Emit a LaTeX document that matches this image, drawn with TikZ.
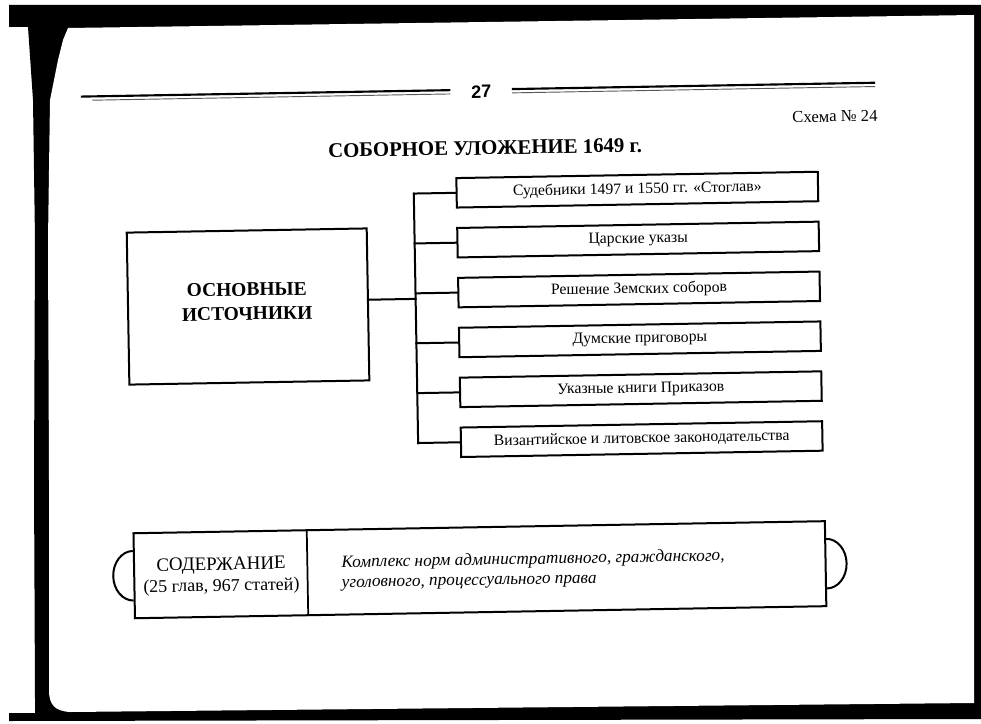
\documentclass[tikz,border=0pt]{standalone}
\usepackage{fontspec}
\setmainfont{Liberation Serif}
\newfontfamily\hdrfont{Liberation Sans}
\begin{document}
\begin{tikzpicture}[x=0.75pt,y=-0.75pt,
  srcbox/.style={draw, line width=1.5pt, minimum width=271.1pt, minimum height=22.1pt,
    inner sep=0pt, font=\fontsize{11.8}{14}\selectfont},
  bigbox/.style={draw, line width=1.5pt, inner sep=0pt},
  link/.style={line width=1.5pt, line cap=rect},
  rulethick/.style={line width=1.6pt},
  rulethin/.style={line width=0.7pt, black!65},
  txt/.style={inner sep=0pt}]
\useasboundingbox (0,0) rectangle (981,724);
\fill[white] (0,0) rectangle (981,724);
% scanned page edges
\fill[black] (9,5) -- (981,5) -- (981,719) -- (9,721) -- (9,713) -- (35,713) -- (35,698)
  -- (34,480) -- (35,240) -- (33,100) -- (28,27) -- (9,27) -- cycle;
\fill[white] (68,28) -- (974,15) -- (974,703) -- (70,712)
  .. controls (55,711) and (49,705) .. (49,690) -- (49,480) -- (48,240) -- (50,100)
  -- (58,60) -- (63,40) -- cycle;

\begin{scope}[rotate around={1:(490,360)}, transform shape]
  % header
  \draw[rulethick] (85.6,89.5) -- (455,89.5);
  \draw[rulethin] (97,93.3) -- (455,93.3);
  \draw[rulethick] (516.7,89.5) -- (879.8,89.5);
  \draw[rulethin] (516.7,93.3) -- (879.8,93.3);
  \node[txt, font=\fontsize{13.5}{16}\selectfont\hdrfont\bfseries] (pg) at (486,91.5) {27};
  \node[txt, anchor=east, font=\fontsize{12.5}{14}\selectfont] (schema) at (882,122.5) {Схема № 24};
  \node[txt, font=\fontsize{15.6}{18}\selectfont\bfseries] (title) at (488.7,148) {СОБОРНОЕ УЛОЖЕНИЕ 1649 г.};

  % main source box
  \node[bigbox, minimum width=180pt, minimum height=114pt] (main) at (249,302.3) {};
  \node[txt, align=center, font=\fontsize{14.6}{18}\selectfont\bfseries] (mainlbl) at (248,297.3) {ОСНОВНЫЕ\\ИСТОЧНИКИ};

  % source list
  \node[srcbox] (s1) at (640.25,192.25) {Судебники 1497 и 1550 гг. «Стоглав»};
  \node[srcbox] (s2) at (640.25,242.15) {Царские указы};
  \node[srcbox] (s3) at (640.25,292.05) {Решение Земских соборов};
  \node[srcbox] (s4) at (640.25,341.95) {Думские приговоры};
  \node[srcbox] (s5) at (640.25,391.85) {Указные книги Приказов};
  \node[srcbox] (s6) at (640.25,441.75) {Византийское и литовское законодательства};

  \coordinate (trk) at (416.7,0);
  \coordinate (jn) at (416.7,297.6);
  \draw[link] (s1.west -| trk) -- (s6.west -| trk);
  \foreach \i in {1,...,6} \draw[link] (s\i.west -| trk) -- (s\i.west);
  \draw[link] (main.east |- jn) -- (jn);

  % content box
  \node[bigbox, minimum width=518.6pt, minimum height=63.75pt] (content) at (476.25,569.5) {};
  \coordinate (divx) at (303.8,0);
  \draw[line width=1.3pt] (content.north -| divx) -- (content.south -| divx);
  \node[txt, align=center, font=\fontsize{13.5}{16}\selectfont] (cttl) at (217.5,571.5)
    {{\fontsize{14.2}{16}\selectfont СОДЕРЖАНИЕ}\\(25 глав, 967 статей)};
  \node[txt, align=left, anchor=west, font=\fontsize{12.9}{15}\selectfont\itshape] (cdesc) at (337.7,570.7)
    {Комплекс норм административного, гражданского,\\уголовного, процессуального права};
  \draw[line width=1.5pt] ([yshift=18.6pt]content.west) arc[start angle=90, end angle=270, x radius=15pt, y radius=18.6pt];
  \draw[line width=1.5pt] ([yshift=18.6pt]content.east) arc[start angle=90, end angle=-90, x radius=15pt, y radius=18.6pt];
\end{scope}
\end{tikzpicture}
\end{document}
